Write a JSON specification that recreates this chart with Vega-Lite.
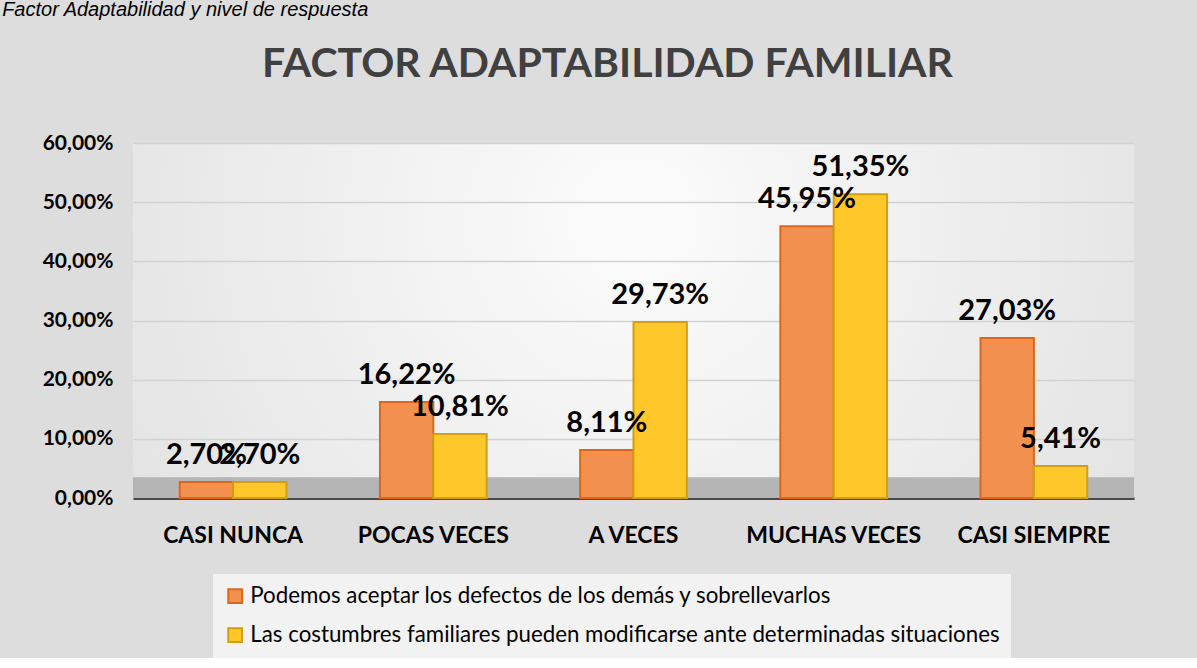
{
  "$schema": "https://vega.github.io/schema/vega-lite/v6.json",
  "background": "#dddddd",
  "padding": {"left": 2, "top": 0, "right": 64, "bottom": 0},
  "config": {
    "locale": {"number": {"decimal": ",", "thousands": ".", "grouping": [3], "currency": ["", " €"]}},
    "view": {"stroke": null, "fill": {"gradient": "radial", "x1": 0.5, "y1": 0.4, "x2": 0.5, "y2": 0.4, "r1": 0, "r2": 0.72, "stops": [{"offset": 0, "color": "#fcfcfc"}, {"offset": 1, "color": "#dddddd"}]}},
    "font": "Lato"
  },
  "title": {
    "text": "Factor Adaptabilidad y nivel de respuesta",
    "anchor": "start",
    "frame": "bounds",
    "font": "Liberation Sans",
    "fontSize": 20,
    "fontStyle": "italic",
    "fontWeight": "normal",
    "color": "#000000",
    "dx": -40,
    "offset": 24
  },
  "vconcat": [
    {
      "width": 1001,
      "height": 355,
      "title": {
        "text": "FACTOR ADAPTABILIDAD FAMILIAR",
        "anchor": "middle",
        "frame": "group",
        "font": "Lato",
        "fontSize": 41,
        "fontWeight": "bold",
        "color": "#404040",
        "dx": -26,
        "offset": 46
      },
      "data": {
        "values": [
          {"categoria": "CASI NUNCA", "serie": "Podemos aceptar los defectos de los demás y sobrellevarlos", "valor": 0.027},
          {"categoria": "CASI NUNCA", "serie": "Las costumbres familiares pueden modificarse ante determinadas situaciones", "valor": 0.027},
          {"categoria": "POCAS VECES", "serie": "Podemos aceptar los defectos de los demás y sobrellevarlos", "valor": 0.1622},
          {"categoria": "POCAS VECES", "serie": "Las costumbres familiares pueden modificarse ante determinadas situaciones", "valor": 0.1081},
          {"categoria": "A VECES", "serie": "Podemos aceptar los defectos de los demás y sobrellevarlos", "valor": 0.0811},
          {"categoria": "A VECES", "serie": "Las costumbres familiares pueden modificarse ante determinadas situaciones", "valor": 0.2973},
          {"categoria": "MUCHAS VECES", "serie": "Podemos aceptar los defectos de los demás y sobrellevarlos", "valor": 0.4595},
          {"categoria": "MUCHAS VECES", "serie": "Las costumbres familiares pueden modificarse ante determinadas situaciones", "valor": 0.5135},
          {"categoria": "CASI SIEMPRE", "serie": "Podemos aceptar los defectos de los demás y sobrellevarlos", "valor": 0.2703},
          {"categoria": "CASI SIEMPRE", "serie": "Las costumbres familiares pueden modificarse ante determinadas situaciones", "valor": 0.0541}
        ]
      },
      "layer": [
        {
          "data": {"values": [{"piso": "piso"}]},
          "mark": {"type": "rect", "color": "#b5b5b5"},
          "encoding": {
            "y": {"datum": 0, "type": "quantitative"},
            "y2": {"datum": 0.035}
          }
        },
        {
          "mark": {"type": "bar", "strokeWidth": 2},
          "encoding": {
            "x": {
              "field": "categoria",
              "type": "nominal",
              "sort": null,
              "scale": {"paddingInner": 0.03, "paddingOuter": 0.015},
              "axis": {
                "title": null,
                "labelAngle": 0,
                "labelFont": "Lato",
                "labelFontSize": 23,
                "labelFontWeight": "bold",
                "labelColor": "#000000",
                "labelPadding": 26,
                "labelLimit": 300,
                "ticks": false,
                "domain": true,
                "domainColor": "#4a4a4a",
                "domainWidth": 3,
                "grid": false
              }
            },
            "xOffset": {
              "field": "serie",
              "type": "nominal",
              "sort": null,
              "scale": {"paddingInner": 0, "paddingOuter": 0.82}
            },
            "y": {
              "field": "valor",
              "type": "quantitative",
              "scale": {"domain": [0, 0.6], "nice": false},
              "axis": {
                "title": null,
                "format": ".2%",
                "values": [0, 0.1, 0.2, 0.3, 0.4, 0.5, 0.6],
                "labelOverlap": false,
                "labelFont": "Lato",
                "labelFontSize": 21,
                "labelFontWeight": "bold",
                "labelColor": "#000000",
                "labelPadding": 20,
                "ticks": false,
                "domain": false,
                "grid": true,
                "gridColor": "#d2d2d2",
                "gridWidth": 1.5
              }
            },
            "color": {
              "field": "serie",
              "type": "nominal",
              "sort": null,
              "scale": {
                "domain": ["Podemos aceptar los defectos de los demás y sobrellevarlos", "Las costumbres familiares pueden modificarse ante determinadas situaciones"],
                "range": ["#F2904F", "#FFC72A"]
              },
              "legend": {
                "title": null,
                "orient": "none",
                "legendX": 80,
                "legendY": 431,
                "direction": "vertical",
                "labelFont": "Lato",
                "labelFontSize": 22.3,
                "labelColor": "#000000",
                "labelLimit": 900,
                "symbolType": "square",
                "symbolSize": 190,
                "symbolStrokeWidth": 2,
                "symbolOpacity": 1,
                "rowPadding": 16,
                "padding": 11,
                "fillColor": "#f2f2f2",
                "labelOffset": 4
              }
            },
            "stroke": {
              "field": "serie",
              "type": "nominal",
              "sort": null,
              "scale": {
                "domain": ["Podemos aceptar los defectos de los demás y sobrellevarlos", "Las costumbres familiares pueden modificarse ante determinadas situaciones"],
                "range": ["#DC671C", "#CFA011"]
              },
              "legend": null
            }
          }
        },
        {
          "mark": {"type": "text", "font": "Lato", "fontSize": 29, "fontWeight": "bold", "color": "#000000", "baseline": "alphabetic", "dy": -18},
          "encoding": {
            "x": {"field": "categoria", "type": "nominal", "sort": null},
            "xOffset": {"field": "serie", "type": "nominal", "sort": null},
            "y": {"field": "valor", "type": "quantitative"},
            "text": {"field": "valor", "type": "quantitative", "format": ".2%"}
          }
        }
      ]
    }
  ]
}
